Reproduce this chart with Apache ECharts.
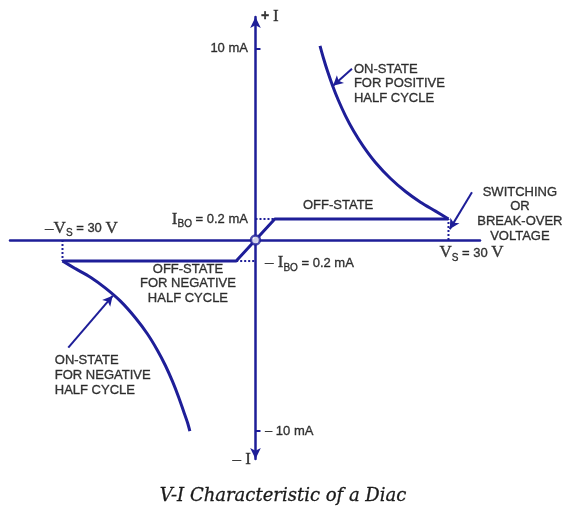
<!DOCTYPE html>
<html><head><meta charset="utf-8">
<script src="https://cdn.jsdelivr.net/npm/echarts@6/dist/echarts.min.js"></script>
<style>html,body{margin:0;padding:0;background:#fff}#c{width:566px;height:512px}</style>
</head><body><div id="c"></div>
<script>
const BLUE = '#1e1e98';
const INK = '#0a0a0a';

// Diagram values (x: volts, y: current in diagram units, mA scale)
const offStatePath = [[-30, -1.1], [-3, -1.1], [3, 1.1], [30, 1.1]];
const onStatePositive = [[30, 1.1], [27.98, 1.51], [25.65, 1.98], [23.32, 2.54], [20.99, 3.22], [18.65, 4.06], [16.79, 4.89], [15.23, 5.72], [13.99, 6.5], [12.9, 7.3], [11.97, 8.09], [11.19, 8.84], [10.57, 9.51], [10.03, 10.16]];
const onStateNegative = [[-30, -1.1], [-27.98, -1.5], [-25.65, -1.95], [-23.32, -2.52], [-20.99, -3.2], [-18.65, -4.08], [-16.79, -4.92], [-15.23, -5.78], [-13.99, -6.58], [-12.9, -7.4], [-11.97, -8.2], [-11.19, -8.95], [-10.57, -9.55], [-10.2, -10.0]];
const dottedGuides = [
  [[0, 1.1], [3, 1.1]],
  [[-3, -1.1], [0, -1.1]],
  [[30, 0], [30, 1.1]],
  [[-30, 0], [-30, -1.1]]
];
const yTickValues = [-10, 10];
const pointerArrows = [
  { from: [15.0, 8.96], to: [12.05, 8.07], curve: 0 },
  { from: [-29.1, -5.63], to: [-22.2, -2.92], curve: 0 },
  { from: [33.65, 2.5], to: [30.2, 0.57], curve: 0.5 }
];
const annotations = [
  { at: [0.86, 11.72], align: 'left', text: '{p|+ }{i|I}' },
  { at: [-1.17, 10.0], align: 'right', text: '{s|10 mA}' },
  { at: [1.48, -10.0], align: 'left', text: '{s|– 10 mA}' },
  { at: [-0.7, -11.51], align: 'right', text: '{i|– I}' },
  { at: [15.3, 8.18], align: 'left', text: 'ON-STATE\nFOR POSITIVE\nHALF CYCLE' },
  { at: [7.38, 1.82], align: 'left', text: 'OFF-STATE' },
  { at: [41.1, 1.35], align: 'center', text: 'SWITCHING\nOR\nBREAK-OVER\nVOLTAGE' },
  { at: [28.6, -0.68], align: 'left', text: '{i|V}{sub|S}{s| = 30 }{i|V}' },
  { at: [-1.17, 1.09], align: 'right', text: '{i|I}{sub|BO}{s| = 0.2 mA}' },
  { at: [1.48, -1.2], align: 'left', text: '{i|– I}{sub|BO}{s| = 0.2 mA}' },
  { at: [-32.7, 0.625], align: 'left', text: '{i|–V}{sub|S}{s| = 30 }{i|V}' },
  { at: [-10.5, -2.29], align: 'center', text: 'OFF-STATE\nFOR NEGATIVE\nHALF CYCLE' },
  { at: [-31.2, -7.08], align: 'left', text: 'ON-STATE\nFOR NEGATIVE\nHALF CYCLE' }
];
const caption = 'V-I Characteristic of a Diac';

const txtStroke = { textBorderColor: INK, textBorderWidth: 0.35 };
const rich = {
  s: Object.assign({ fontFamily: 'Liberation Sans', fontSize: 13, color: INK, lineHeight: 20 }, txtStroke),
  p: Object.assign({ fontFamily: 'Liberation Sans', fontSize: 14, fontWeight: 'bold', color: INK, lineHeight: 20 }, txtStroke),
  i: Object.assign({ fontFamily: 'Liberation Serif', fontSize: 17, color: INK, lineHeight: 20 }, txtStroke),
  sub: Object.assign({ fontFamily: 'Liberation Sans', fontSize: 10, color: INK, lineHeight: 12, verticalAlign: 'bottom' }, txtStroke)
};

const chart = echarts.init(document.getElementById('c'), null, { renderer: 'canvas' });
chart.setOption({
  animation: false,
  backgroundColor: '#fff',
  title: {
    text: caption, left: 'center', top: 482,
    textStyle: { fontFamily: 'DejaVu Serif', fontStyle: 'italic', fontWeight: 'normal', fontSize: 18, color: '#1a1a1a', textBorderColor: '#1a1a1a', textBorderWidth: 0.3 }
  },
  grid: { left: 10, right: 86, top: 17, bottom: 53 },
  xAxis: {
    type: 'value', min: -38.16, max: 34.9,
    axisLine: { show: true, onZero: true, lineStyle: { color: BLUE, width: 2.5 } },
    axisTick: { show: false }, axisLabel: { show: false }, splitLine: { show: false }
  },
  yAxis: {
    type: 'value', min: -11.46, max: 11.67,
    axisLine: { show: true, onZero: true, symbol: ['arrow', 'arrow'], symbolSize: [8, 11], symbolOffset: [0, 0], lineStyle: { color: BLUE, width: 2.5 } },
    axisTick: { show: true, inside: true, length: 5, customValues: yTickValues, lineStyle: { color: BLUE, width: 2 } },
    axisLabel: { show: false }, splitLine: { show: false }
  },
  series: [
    { type: 'line', data: offStatePath, symbol: 'none', lineStyle: { color: BLUE, width: 3 }, z: 3 },
    { type: 'line', data: onStatePositive, symbol: 'none', smooth: 0.3, lineStyle: { color: BLUE, width: 3 }, z: 3 },
    { type: 'line', data: onStateNegative, symbol: 'none', smooth: 0.3, lineStyle: { color: BLUE, width: 3 }, z: 3 },
    ...dottedGuides.map(seg => ({ type: 'line', data: seg, symbol: 'none', lineStyle: { color: BLUE, width: 2, type: [2, 2] }, z: 2 })),
    {
      type: 'line', data: [], symbol: 'none',
      markLine: {
        silent: true, symbol: ['none', 'arrow'], symbolSize: [8, 10], label: { show: false },
        data: pointerArrows.map(a => [
          { coord: a.from, lineStyle: { color: BLUE, width: 2, type: 'solid', curveness: a.curve } },
          { coord: a.to }
        ])
      }
    },
    {
      type: 'scatter', data: [[0, 0]], symbol: 'circle', symbolSize: 9,
      itemStyle: { color: '#fff', borderColor: BLUE, borderWidth: 2.5 }, z: 5
    },
    {
      type: 'scatter', clip: false, silent: true, symbolSize: 0, z: 6,
      data: annotations.map(a => ({
        value: a.at,
        label: Object.assign({
          show: true, position: 'inside', align: a.align, verticalAlign: 'middle',
          formatter: a.text, fontFamily: 'Liberation Sans', fontSize: 13, lineHeight: 14.7, color: INK, rich: rich
        }, txtStroke)
      }))
    }
  ]
});
</script>
</body></html>
